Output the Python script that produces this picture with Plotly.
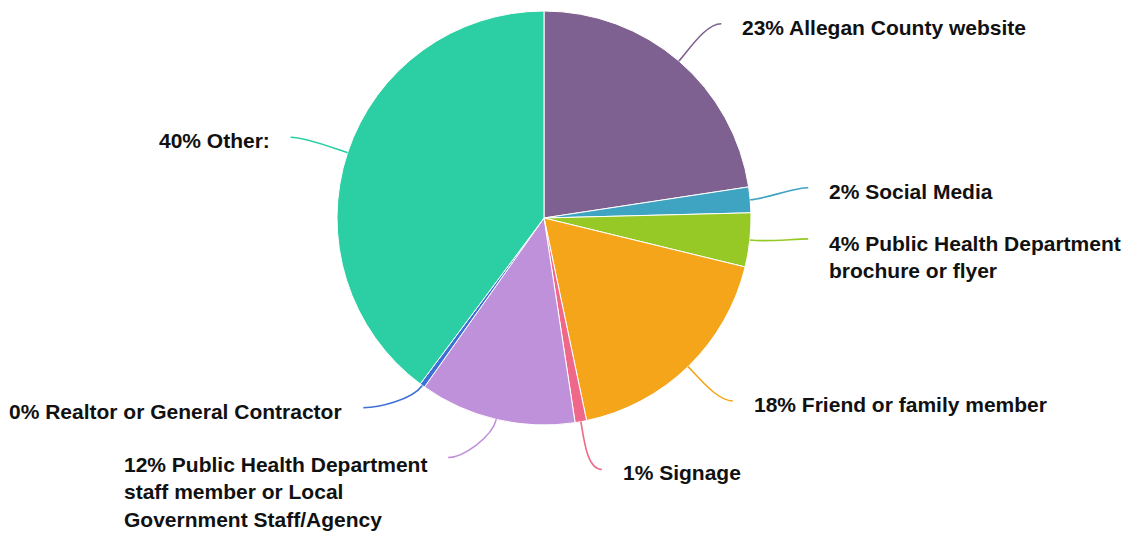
import math
import textwrap
import plotly.graph_objects as go

# ---------------- data ----------------
categories = [
    "Allegan County website",
    "Social Media",
    "Public Health Department brochure or flyer",
    "Friend or family member",
    "Signage",
    "Public Health Department staff member or Local Government Staff/Agency",
    "Realtor or General Contractor",
    "Other:",
]
shares = [22.6, 2.0, 4.2, 17.9, 0.9, 12.2, 0.4, 39.8]
colors = ["#7e6190", "#3fa3c2", "#96c925", "#f5a51a",
          "#f06889", "#c091db", "#3d6fd6", "#2ccfa4"]

# ---------------- layout / style ----------------
W, H = 1126, 533
CX, CY, R = 544, 218, 207          # pie centre and radius in pixels
GAP = 20                           # gap between line end and text
FONT = dict(family="Liberation Sans, Arial, sans-serif", size=21,
            color="#111111", weight="bold")
label_shift = [1.7, -1.5, -1.6, -1.8, -2.7, 8.5, 7.6, -0.7]   # deg nudges to untangle labels
label_r = [263, 266, 265, 263, 258, 258, 262, 266]            # leader line end radius
text_dy = [3.5, 3.5, 4.5, 3.5, 3.5, 7, 3.5, 3.5]             # text offset below line end
WRAP_AT = 28


def px(x):
    return x / W


def py(y):
    return 1 - y / H


def polar(angle_deg, r):
    a = math.radians(angle_deg)
    return CX + r * math.sin(a), CY - r * math.cos(a)


total = sum(shares)
fig = go.Figure()
fig.add_trace(go.Pie(
    labels=categories,
    values=shares,
    sort=False,
    direction="clockwise",
    rotation=0,
    textinfo="none",
    hoverinfo="label+percent",
    marker=dict(colors=colors, line=dict(color="white", width=1)),
    domain=dict(x=[px(CX - R), px(CX + R)], y=[py(CY + R), py(CY - R)]),
    showlegend=False,
))

shapes = []
annotations = []
cum = 0.0
for i, (cat, v) in enumerate(zip(categories, shares)):
    a0 = cum / total * 360
    cum += v
    a1 = cum / total * 360
    mid = (a0 + a1) / 2
    # leader line
    sx, sy = polar(mid, R)
    ex, ey = polar(mid + label_shift[i], label_r[i])
    ux, uy = (sx - CX) / R, (sy - CY) / R
    right = ex >= CX
    side = 1 if right else -1
    c1x, c1y = sx + 18 * ux, sy + 18 * uy
    c2x, c2y = ex - side * 15, ey
    path = (f"M {px(sx)},{py(sy)} C {px(c1x)},{py(c1y)} "
            f"{px(c2x)},{py(c2y)} {px(ex)},{py(ey)}")
    shapes.append(dict(type="path", path=path, xref="paper", yref="paper",
                       line=dict(color=colors[i], width=1.6)))
    # label text
    text = f"{round(v / total * 100):.0f}% {cat}"
    lines = textwrap.wrap(text, WRAP_AT) if len(cat) > 35 else [text]
    lh = FONT["size"] * 1.3
    ty = ey + text_dy[i] + (len(lines) - 1) * lh / 2
    annotations.append(dict(
        text="<br>".join(lines),
        x=px(ex + side * GAP), y=py(ty),
        xref="paper", yref="paper",
        xanchor="left" if right else "right",
        yanchor="middle", align="left",
        showarrow=False, font=FONT, borderpad=0,
    ))

fig.update_layout(
    width=W, height=H,
    margin=dict(l=0, r=0, t=0, b=0),
    paper_bgcolor="white", plot_bgcolor="white",
    shapes=shapes, annotations=annotations,
)

fig.write_html("out.html", config={"displayModeBar": False},
               post_script="document.body.style.margin='0';")
